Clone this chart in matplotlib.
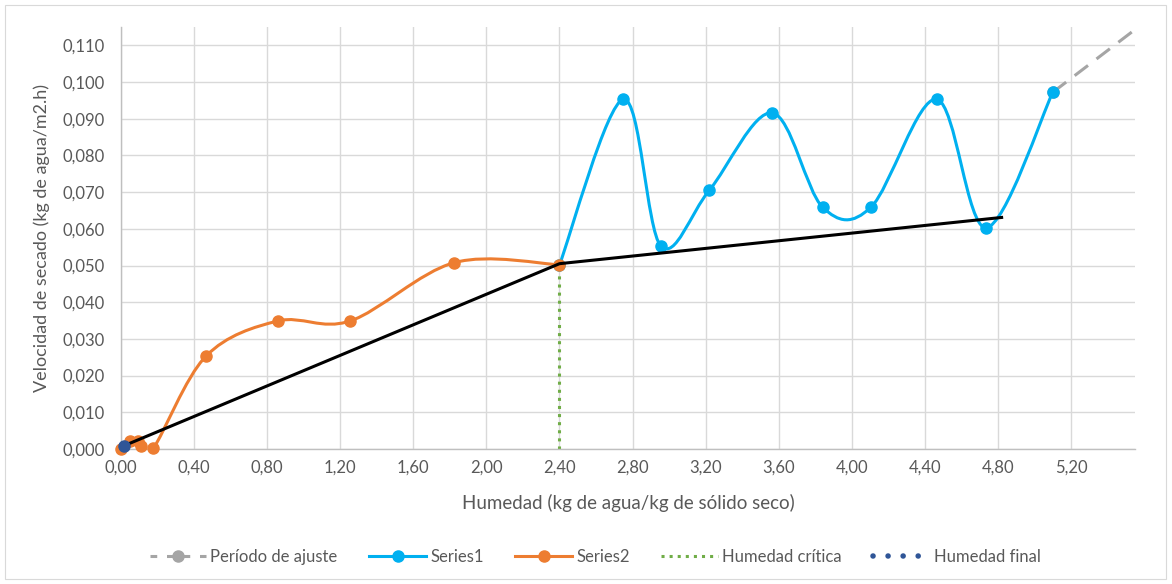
import numpy as np
import matplotlib
matplotlib.use("Agg")
import matplotlib.pyplot as plt
from matplotlib.path import Path
from matplotlib.patches import PathPatch, Rectangle
from matplotlib.lines import Line2D
from matplotlib.ticker import MultipleLocator, FuncFormatter

# datos
# Series1 (velocidad constante)
s1_x = [2.40, 2.75, 2.955, 3.22, 3.565, 3.84, 4.105, 4.465, 4.735, 5.10]
s1_y = [0.0502, 0.0953, 0.0553, 0.0705, 0.0916, 0.0659, 0.0659, 0.0953, 0.0603, 0.0972]

# Series2 (velocidad decreciente)
s2_x = [0.00, 0.047, 0.095, 0.108, 0.177, 0.465, 0.86, 1.255, 1.825, 2.40]
s2_y = [0.0000, 0.0023, 0.0023, 0.0007, 0.0002, 0.0253, 0.0349, 0.0349, 0.0508, 0.0502]

# recta de ajuste (negra)
fit_x = [0.017, 2.40, 4.82]
fit_y = [0.0009, 0.0505, 0.0631]

# periodo de ajuste (gris discontinua)
ajuste_x = [5.10, 5.70]
ajuste_y = [0.0972, 0.1200]

# humedad critica / final
crit_x = [2.40, 2.40]
crit_y = [0.0, 0.0502]
final_x = [0.017]
final_y = [0.0008]

C_BLUE = '#00B0F0'
C_ORANGE = '#ED7D31'
C_GREEN = '#70AD47'
C_GRAY = '#A5A5A5'
C_NAVY = '#2F5597'
C_TEXT = '#595959'

plt.rcParams['font.family'] = ['Lato', 'DejaVu Sans']


# curva suavizada tipo Excel (bezier catmull-rom)
def smooth_path(xs, ys):
  pts = np.column_stack([xs, ys]).astype(float)
  n = len(pts)
  verts = [pts[0]]
  codes = [Path.MOVETO]
  for i in range(n - 1):
    p0 = pts[i - 1] if i > 0 else pts[i]
    p1 = pts[i]
    p2 = pts[i + 1]
    p3 = pts[i + 2] if i + 2 < n else pts[i + 1]
    verts += [p1 + (p2 - p0) / 6, p2 - (p3 - p1) / 6, p2]
    codes += [Path.CURVE4] * 3
  return Path(verts, codes)


fig = plt.figure(figsize=(11.72, 5.84), dpi=100)
ax = fig.add_axes([121/1172, 1 - 449/584, (1135-121)/1172, (449-27)/584])

fig.patches.append(Rectangle((5/1172, 5/584), 1 - 11/1172, 1 - 10/584,
                             transform=fig.transFigure, fill=False,
                             edgecolor='#D9D9D9', lw=0.8))

ax.set_xlim(0, 5.55)
ax.set_ylim(0, 0.115)
ax.xaxis.set_major_locator(MultipleLocator(0.4))
ax.yaxis.set_major_locator(MultipleLocator(0.01))
ax.xaxis.set_major_formatter(FuncFormatter(lambda v, _: f"{v:.2f}".replace('.', ',')))
ax.yaxis.set_major_formatter(FuncFormatter(lambda v, _: f"{v:.3f}".replace('.', ',')))
ax.grid(True, color='#D9D9D9', lw=1.0)
ax.set_axisbelow(True)
for s in ['top', 'right']:
  ax.spines[s].set_visible(False)
for s in ['left', 'bottom']:
  ax.spines[s].set_color('#BFBFBF')
  ax.spines[s].set_linewidth(1.0)
ax.tick_params(length=0, labelsize=12, labelcolor=C_TEXT)
ax.tick_params(axis='x', pad=8)
ax.tick_params(axis='y', pad=12)

ax.set_xlabel('Humedad (kg de agua/kg de sólido seco)', fontsize=13.5, color=C_TEXT, labelpad=13)
ax.set_ylabel('Velocidad de secado (kg de agua/m2.h)', fontsize=13, color=C_TEXT, labelpad=9)

lw = 2.2
ms = 8

# periodo de ajuste
ax.plot(ajuste_x, ajuste_y, color=C_GRAY, lw=lw, dashes=(5.5, 3.5), marker='o',
        ms=ms, zorder=2)

# series suavizadas
ax.add_patch(PathPatch(smooth_path(s1_x, s1_y), fill=False, edgecolor=C_BLUE, lw=lw, zorder=3))
ax.plot(s1_x, s1_y, 'o', color=C_BLUE, ms=ms, zorder=3, clip_on=False)
ax.add_patch(PathPatch(smooth_path(s2_x, s2_y), fill=False, edgecolor=C_ORANGE, lw=lw, zorder=3))
ax.plot(s2_x, s2_y, 'o', color=C_ORANGE, ms=ms, zorder=3, clip_on=False)

# humedad critica
ax.plot(crit_x, crit_y, color=C_GREEN, lw=lw, ls=':', zorder=2.5)

# recta
ax.plot(fit_x, fit_y, color='black', lw=lw, zorder=4)

# humedad final
ax.plot(final_x, final_y, 'o', color=C_NAVY, ms=ms, zorder=5, clip_on=False)

handles = [
  Line2D([], [], color=C_GRAY, lw=lw, dashes=(2.2, 3.2), marker='o', ms=ms),
  Line2D([], [], color=C_BLUE, lw=lw, marker='o', ms=ms),
  Line2D([], [], color=C_ORANGE, lw=lw, marker='o', ms=ms),
  Line2D([], [], color=C_GREEN, lw=lw, ls=':'),
  Line2D([], [], color=C_NAVY, lw=4, ls=(0, (0.01, 2.7)), dash_capstyle='round'),
]
labels = ['Período de ajuste', 'Series1', 'Series2', 'Humedad crítica', 'Humedad final']
leg = fig.legend(handles, labels, loc='center', bbox_to_anchor=(0.508, 1 - 557/584),
                 ncol=5, frameon=False, fontsize=12, handlelength=3.4,
                 handletextpad=0.25, columnspacing=1.9, labelcolor=C_TEXT)

fig.savefig('out.png', dpi=100)
